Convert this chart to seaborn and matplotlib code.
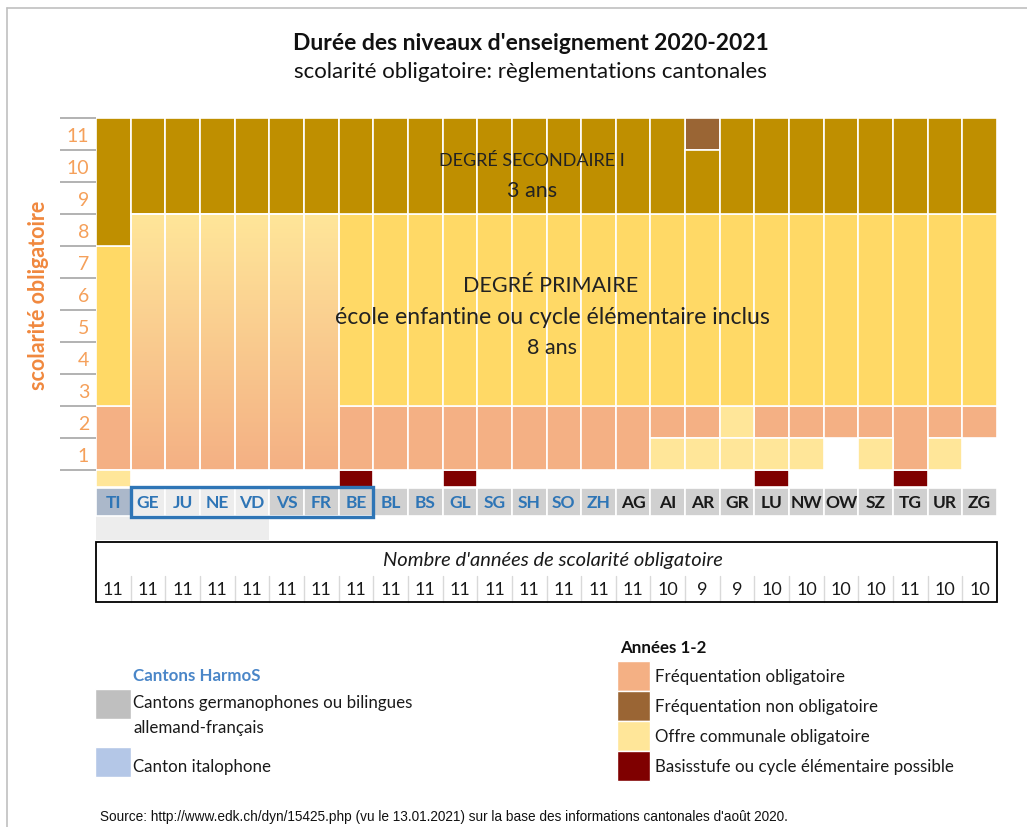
import numpy as np
import pandas as pd
import matplotlib
matplotlib.use('Agg')
import matplotlib.pyplot as plt
import seaborn as sns
from matplotlib.colors import LinearSegmentedColormap
from matplotlib.patches import Patch, Rectangle

# the data
cantons = ['TI', 'GE', 'JU', 'NE', 'VD', 'VS', 'FR', 'BE', 'BL', 'BS', 'GL', 'SG', 'SH',
           'SO', 'ZH', 'AG', 'AI', 'AR', 'GR', 'LU', 'NW', 'OW', 'SZ', 'TG', 'UR', 'ZG']
harmos = [True, True, True, True, True, True, True, True, True, True, True, True, True,
          True, True, False, False, False, False, False, False, False, False, False, False, False]
region = ['it', 'fr', 'fr', 'fr', 'fr', 'de', 'de', 'de', 'de', 'de', 'de', 'de', 'de',
          'de', 'de', 'de', 'de', 'de', 'de', 'de', 'de', 'de', 'de', 'de', 'de', 'de']
# first and last school year of the secondary level
debut_sec = [8, 9, 9, 9, 9, 9, 9, 9, 9, 9, 9, 9, 9, 9, 9, 9, 9, 9, 9, 9, 9, 9, 9, 9, 9, 9]
fin_sec = [11, 11, 11, 11, 11, 11, 11, 11, 11, 11, 11, 11, 11, 11, 11, 11, 11, 10, 11, 11, 11, 11, 11, 11, 11, 11]
annee_11 = ['', '', '', '', '', '', '', '', '', '', '', '', '', '', '', '', '', 'non_oblig',
            '', '', '', '', '', '', '', '']
# first year of the primary level (1 = years 1-2 included in a continuous cycle)
debut_prim = [3, 1, 1, 1, 1, 1, 1, 3, 3, 3, 3, 3, 3, 3, 3, 3, 3, 3, 3, 3, 3, 3, 3, 3, 3, 3]
annee_2 = ['oblig', '', '', '', '', '', '', 'oblig', 'oblig', 'oblig', 'oblig', 'oblig', 'oblig',
           'oblig', 'oblig', 'oblig', 'oblig', 'oblig', 'offre', 'oblig', 'oblig', 'oblig', 'oblig',
           'oblig', 'oblig', 'oblig']
annee_1 = ['oblig', '', '', '', '', '', '', 'oblig', 'oblig', 'oblig', 'oblig', 'oblig', 'oblig',
           'oblig', 'oblig', 'oblig', 'offre', 'offre', 'offre', 'offre', 'offre', '', 'offre',
           'oblig', 'offre', '']
annee_0 = ['offre', '', '', '', '', '', '', 'basis', '', '', 'basis', '', '', '', '', '', '', '',
           '', 'basis', '', '', '', 'basis', '', '']
nb_annees = [11, 11, 11, 11, 11, 11, 11, 11, 11, 11, 11, 11, 11, 11, 11, 11,
             10, 9, 9, 10, 10, 10, 10, 11, 10, 10]

couleurs = {'secondaire': '#BF8F00', 'primaire': '#FFD966', 'oblig': '#F4B084',
            'non_oblig': '#9A6534', 'offre': '#FFE699', 'basis': '#7F0000'}
fonds = {'it': '#ABB8CA', 'fr': '#EDEDED', 'de': '#D0D0D0'}
bleu = '#2E75B6'
orange = '#F5A05A'

# build the segments table
rows = []
for i, c in enumerate(cantons):
    rows.append((i, debut_sec[i] - 1, fin_sec[i], 'secondaire'))
    if annee_11[i]:
        rows.append((i, 10, 11, annee_11[i]))
    cat_p = 'degrade' if debut_prim[i] == 1 else 'primaire'
    rows.append((i, debut_prim[i] - 1, debut_sec[i] - 1, cat_p))
    if annee_1[i] == 'oblig' and annee_2[i] == 'oblig':
        rows.append((i, 0, 2, 'oblig'))
    else:
        if annee_2[i]:
            rows.append((i, 1, 2, annee_2[i]))
        if annee_1[i]:
            rows.append((i, 0, 1, annee_1[i]))
    if annee_0[i]:
        rows.append((i, -0.53, 0, annee_0[i]))
df = pd.DataFrame(rows, columns=['x', 'bas', 'haut', 'cat'])

sns.set_theme(style='white')
plt.rcParams['font.family'] = ['Lato', 'DejaVu Sans']

W, H = 1027, 828
fig = plt.figure(figsize=(W / 100, H / 100), dpi=100)

def fx(x):
    return x / W

def fy(y):
    return 1 - y / H

ax = fig.add_axes([fx(96), fy(606), 901 / W, 487 / H])
for s in ax.spines.values():
    s.set_visible(False)

# the stacked cells
cmap_grad = LinearSegmentedColormap.from_list('grad', [couleurs['oblig'], couleurs['offre']])
for cat, g in df.groupby('cat'):
    if cat == 'degrade':
        bars = ax.bar(g['x'], g['haut'] - g['bas'], bottom=g['bas'], width=1,
                      facecolor='none', edgecolor='white', linewidth=1.2, zorder=3)
        for (_, r), p in zip(g.iterrows(), bars.patches):
            im = ax.imshow(np.linspace(0, 1, 256).reshape(-1, 1), cmap=cmap_grad,
                           extent=(r['x'] - 0.5, r['x'] + 0.5, r['bas'], r['haut']),
                           origin='lower', aspect='auto', zorder=1)
            im.set_clip_path(p)
    else:
        ax.bar(g['x'], g['haut'] - g['bas'], bottom=g['bas'], width=1,
               color=couleurs[cat], edgecolor='white', linewidth=1.2, zorder=2)
ax.set_xlim(-0.5, 25.5)
ax.set_ylim(-4.21875, 11)

# y axis: gray lines at boundaries, numbers in the middle
ax.set_yticks(range(0, 12))
ax.set_yticklabels([])
ax.set_yticks(np.arange(0.5, 11, 1), minor=True)
ax.set_yticklabels([str(k) for k in range(1, 12)], minor=True)
ax.tick_params(axis='y', which='major', left=True, length=26, width=1.2, color='#A6A6A6')
ax.tick_params(axis='y', which='minor', left=True, length=0, pad=5, labelsize=14,
               labelcolor=orange)
ax.set_xticks([])

# texts on the blocks
txt = dict(ha='center', va='center', color='#222222')
ax.text(12.08, 9.69, 'DEGRÉ SECONDAIRE I', fontsize=13, **txt)
ax.text(12.08, 8.75, '3 ans', fontsize=15.5, **txt)
ax.text(12.63, 5.78, 'DEGRÉ PRIMAIRE', fontsize=15.5, **txt)
ax.text(12.66, 4.81, 'école enfantine ou cycle élémentaire inclus', fontsize=16.6, **txt)
ax.text(12.66, 3.84, '8 ans', fontsize=15.5, **txt)

# canton labels row
ax.bar(range(len(cantons)), 0.88, bottom=-1.44, width=1,
       color=[fonds[r] for r in region], edgecolor='white', linewidth=1.2, zorder=2)
for i, c in enumerate(cantons):
    ax.text(i, -1.0, c, ha='center', va='center', fontsize=12.5, fontweight='bold',
            color=bleu if harmos[i] else '#1a1a1a', zorder=4)
ax.add_patch(Rectangle((0.5, -1.47), 7, 0.94, facecolor='none', edgecolor=bleu,
                       linewidth=2.4, zorder=5, clip_on=False))
ax.add_patch(Rectangle((-0.5, -2.2), 5, 0.76, facecolor='#EDEDED', edgecolor='none', zorder=1))

# table of the number of years
ax.add_patch(Rectangle((-0.5, -4.125), 26, 1.875, facecolor='none', edgecolor='black',
                       linewidth=1.3, zorder=3, clip_on=False))
ax.text(12.69, -2.81, "Nombre d'années de scolarité obligatoire", ha='center', va='center',
        fontsize=14.5, style='italic', color='#1a1a1a')
for i, n in enumerate(nb_annees):
    ax.text(i, -3.72, str(n), ha='center', va='center', fontsize=13, color='#1a1a1a')
    if i < len(nb_annees) - 1:
        ax.plot([i + 0.5, i + 0.5], [-4.125, -3.31], color='#D9D9D9', linewidth=1, zorder=2)

# titles
fig.text(fx(531), fy(44), "Durée des niveaux d'enseignement 2020-2021", ha='center', va='center',
         fontsize=16.5, fontweight='bold', color='#111111')
fig.text(fx(530), fy(72), 'scolarité obligatoire: règlementations cantonales', ha='center',
         va='center', fontsize=16, color='#111111')
fig.text(fx(39), fy(295), 'scolarité obligatoire', rotation=90, ha='center', va='center',
         fontsize=15.5, fontweight='bold', color='#F0883E')

# legend HarmoS
fig.text(fx(133), fy(676), 'Cantons HarmoS', ha='left', va='center', fontsize=12.2,
         fontweight='bold', color='#4A86C8')
fig.add_artist(Rectangle((fx(95), fy(720)), 36 / W, 30 / H, facecolor='#BFBFBF',
                         edgecolor='white', transform=fig.transFigure))
fig.add_artist(Rectangle((fx(95), fy(778)), 36 / W, 30 / H, facecolor='#B4C7E7',
                         edgecolor='white', transform=fig.transFigure))
fig.text(fx(133), fy(703), 'Cantons germanophones ou bilingues', ha='left', va='center',
         fontsize=12.2, color='#1a1a1a')
fig.text(fx(133), fy(728), 'allemand-français', ha='left', va='center', fontsize=12.2,
         color='#1a1a1a')
fig.text(fx(133), fy(767), 'Canton italophone', ha='left', va='center', fontsize=12.2,
         color='#1a1a1a')

# legend Années 1-2
fig.text(fx(620), fy(648), 'Années 1-2', ha='left', va='center', fontsize=12.2,
         fontweight='bold', color='#111111')
leg2 = fig.legend(handles=[Patch(facecolor=couleurs[k], edgecolor='white')
                           for k in ['oblig', 'non_oblig', 'offre', 'basis']],
                  labels=['Fréquentation obligatoire', 'Fréquentation non obligatoire',
                          'Offre communale obligatoire', 'Basisstufe ou cycle élémentaire possible'],
                  loc='upper left', bbox_to_anchor=(fx(617), fy(662)), frameon=False, fontsize=12.2,
                  handlelength=1.95, handleheight=2.34, handletextpad=0.29, labelspacing=0,
                  borderpad=0, borderaxespad=0)
for t in leg2.get_texts():
    t.set_color('#1a1a1a')

# source
fig.text(fx(100), fy(817), "Source: http://www.edk.ch/dyn/15425.php (vu le 13.01.2021) sur la base "
         "des informations cantonales d'août 2020.", ha='left', va='center', fontsize=9.8,
         family=['Liberation Sans', 'DejaVu Sans'], color='#111111')

# frame of the picture
fig.add_artist(plt.Line2D([fx(7), fx(7)], [fy(9), 0], color='#C0C0C0', linewidth=1.2))
fig.add_artist(plt.Line2D([fx(7), 1], [fy(9), fy(9)], color='#C0C0C0', linewidth=1.2))

fig.savefig('out.png', dpi=100)
